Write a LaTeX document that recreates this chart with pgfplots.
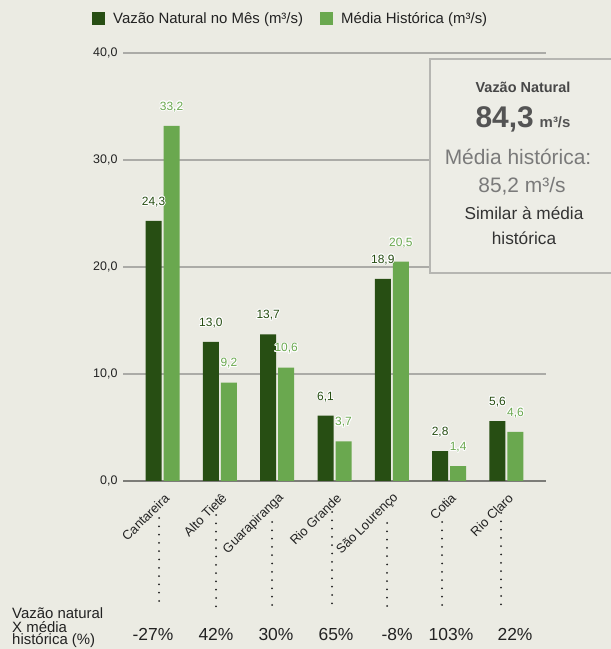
\documentclass[border=0pt]{standalone}
\usepackage{fontspec}
\setmainfont{Liberation Sans}
\usepackage{pgfplots}
\pgfplotsset{compat=1.18}
\usepackage{contour}
\contourlength{0.9pt}
\definecolor{fundo}{HTML}{EBEBE3}
\definecolor{caixa}{HTML}{EDEDE6}
\definecolor{borda}{HTML}{B6B6B2}
\definecolor{grade}{HTML}{ABABA7}
\definecolor{eixo}{HTML}{7C7C78}
\definecolor{escuro}{HTML}{274E13}
\definecolor{claro}{HTML}{6AA84F}
\definecolor{texto}{HTML}{222222}

\begin{document}
\begin{tikzpicture}
\pgfplotsset{
  /pgfplots/ybar legend/.style={
    /pgfplots/legend image code/.code={
      \fill[##1] (0bp,-6.5bp) rectangle (13bp,6.5bp);
    },
  },
}
\fill[fundo] (0bp,0bp) rectangle (611bp,649bp);
\useasboundingbox (0bp,0bp) rectangle (611bp,649bp);
\begin{axis}[
    at={(123bp,168bp)}, anchor=south west,
    scale only axis, width=423bp, height=428bp,
    xmin=-0.69, xmax=6.69, ymin=0, ymax=40,
    ybar=2bp, bar width=16bp,
    axis x line*=bottom, axis y line*=left,
    x axis line style={draw=eixo, line width=2bp},
    y axis line style={draw=none},
    major tick length=0pt,
    xtick={0,...,6},
    xticklabels={Cantareira,Alto Tietê,Guarapiranga,Rio Grande,São Lourenço,Cotia,Rio Claro},
    xticklabel style={xshift=4.5bp, yshift=-14.5bp, rotate=45, anchor=east, inner sep=0pt,
        font=\fontsize{13}{15}\selectfont, text=texto},
    ytick={0,10,20,30,40}, scaled y ticks=false,
    yticklabel style={xshift=-2bp, font=\fontsize{12.5}{14}\selectfont, text=texto,
        /pgf/number format/.cd, fixed, fixed zerofill, precision=1, use comma, assume math mode=true},
    ymajorgrids, grid style={draw=grade, line width=1.5bp},
    nodes near coords={\contour{white}{\pgfmathprintnumber[fixed,fixed zerofill,precision=1,use comma,assume math mode=true]{\pgfplotspointmeta}}},
    every node near coord/.append style={font=\fontsize{12}{14}\selectfont, inner sep=0pt, yshift=13bp},
    legend columns=-1,
    legend style={at={(-0.0733,1.0806)}, anchor=west, draw=none, fill=none, inner sep=0pt,
        nodes={inner sep=0pt, font=\fontsize{15}{18}\selectfont, text=texto},
        /tikz/every odd column/.append style={column sep=8bp},
        /tikz/every even column/.append style={column sep=17bp}},
  ]
  \addplot[fill=escuro, draw=none, every node near coord/.append style={text=escuro}] coordinates {
      (0,24.3) (1,13.0) (2,13.7) (3,6.1) (4,18.9) (5,2.8) (6,5.6)};
  \addplot[fill=claro, draw=none, every node near coord/.append style={text=claro}] coordinates {
      (0,33.2) (1,9.2) (2,10.6) (3,3.7) (4,20.5) (5,1.4) (6,4.6)};
  \legend{Vazão Natural no Mês (m³/s),Média Histórica (m³/s)}
\end{axis}

% caixa de resumo
\draw[fill=caixa, draw=borda, line width=2bp] (430bp,376bp) rectangle (640bp,590bp);
\node[anchor=base, text=black!72, font=\fontsize{14.5}{17}\selectfont\bfseries] at (523bp,556bp) {Vazão Natural};
\node[anchor=base, text=black!67] at (523bp,521bp)
  {{\fontsize{30}{34}\selectfont\bfseries 84,3}\hspace{6bp}{\fontsize{15}{17}\selectfont\bfseries m³/s}};
\node[anchor=base, text=black!52, font=\fontsize{21}{24}\selectfont] at (518bp,484bp) {Média histórica:};
\node[anchor=base, text=black!52, font=\fontsize{21}{24}\selectfont] at (522bp,456bp) {85,2 m³/s};
\node[anchor=base, text=black!80, font=\fontsize{17.3}{20}\selectfont] at (524bp,429bp) {Similar à média};
\node[anchor=base, text=black!80, font=\fontsize{17.3}{20}\selectfont] at (524bp,404bp) {histórica};

% linhas pontilhadas
\begin{scope}[draw=texto, line width=2bp, line cap=round, dash pattern=on 0pt off 8.3bp]
  \draw (159bp,131bp) -- (159bp,40bp);
  \draw (216bp,134bp) -- (216bp,36bp);
  \draw (272bp,127bp) -- (272bp,40bp);
  \draw (332bp,137bp) -- (332bp,40bp);
  \draw (387bp,126bp) -- (387bp,37bp);
  \draw (442bp,127bp) -- (442bp,38bp);
  \draw (501bp,136bp) -- (501bp,38bp);
\end{scope}

% rodape
\begin{scope}[font=\fontsize{15}{16}\selectfont, text=texto]
  \node[anchor=base west, inner sep=0pt] at (12bp,31bp) {Vazão natural};
  \node[anchor=base west, inner sep=0pt] at (12bp,17bp) {X média};
  \node[anchor=base west, inner sep=0pt] at (12bp,5bp) {histórica (\%)};
\end{scope}
\begin{scope}[font=\fontsize{17.5}{20}\selectfont, text=texto]
  \node[anchor=base, inner sep=0pt] at (153bp,9bp) {-27\%};
  \node[anchor=base, inner sep=0pt] at (216bp,9bp) {42\%};
  \node[anchor=base, inner sep=0pt] at (276bp,9bp) {30\%};
  \node[anchor=base, inner sep=0pt] at (336bp,9bp) {65\%};
  \node[anchor=base, inner sep=0pt] at (397bp,9bp) {-8\%};
  \node[anchor=base, inner sep=0pt] at (451bp,9bp) {103\%};
  \node[anchor=base, inner sep=0pt] at (515bp,9bp) {22\%};
\end{scope}
\end{tikzpicture}
\end{document}
